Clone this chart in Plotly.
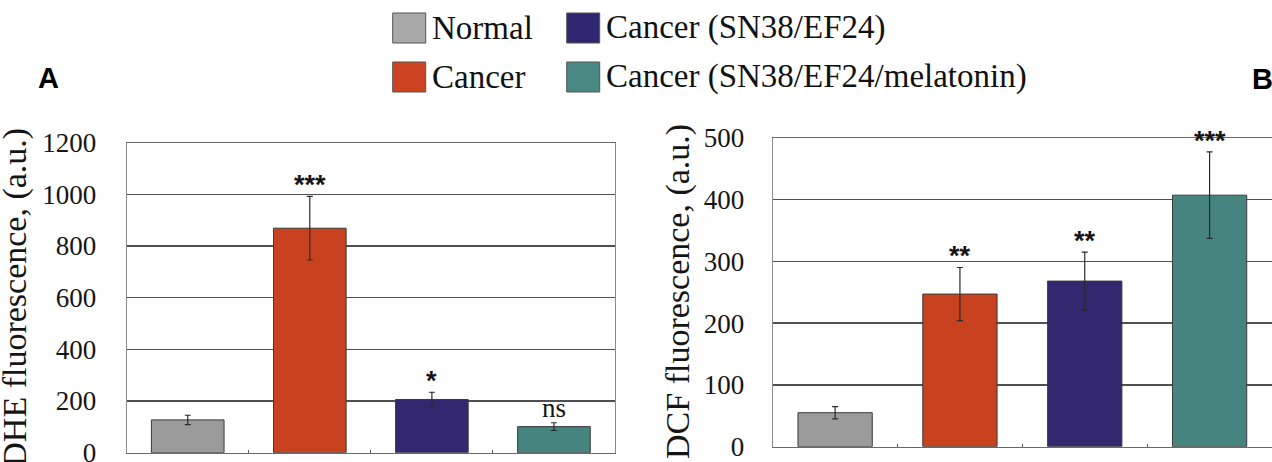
import plotly.graph_objects as go

# ---------------- data ----------------
categories = ["Normal", "Cancer", "Cancer (SN38/EF24)", "Cancer (SN38/EF24/melatonin)"]
colors = ["#9B9B9B", "#C8421F", "#33276F", "#468480"]
legend_colors = ["#A9A9A9", "#CC4322", "#2F2672", "#4A8884"]

dhe_mean = [127, 869, 206, 101]
dhe_err = [18, 123, 28, 15]
dhe_sig = ["", "***", "*", "ns"]

dcf_mean = [55, 247, 268, 407]
dcf_err = [10, 43, 47, 70]
dcf_sig = ["", "**", "**", "***"]

dhe_ticks = [0, 200, 400, 600, 800, 1000, 1200]
dcf_ticks = [0, 100, 200, 300, 400, 500]

W, H = 1272, 462


def px(x):
    return x / W


def py(y):
    return 1 - y / H


SERIF = "Times New Roman, Liberation Serif, serif"
SANS = "Liberation Sans"

fig = go.Figure()

fig.add_trace(go.Bar(
    x=categories, y=dhe_mean,
    error_y=dict(type="data", array=dhe_err, color="#2a2a2a", thickness=1.2, width=3),
    marker=dict(color=colors, line=dict(color="#3a3a3a", width=1)),
    xaxis="x", yaxis="y", showlegend=False, hoverinfo="skip",
))
fig.add_trace(go.Bar(
    x=categories, y=dcf_mean,
    error_y=dict(type="data", array=dcf_err, color="#2a2a2a", thickness=1.2, width=3),
    marker=dict(color=colors, line=dict(color="#3a3a3a", width=1)),
    xaxis="x2", yaxis="y2", showlegend=False, hoverinfo="skip",
))

tickfont = dict(family=SERIF, size=27, color="#151515")
grid = dict(showgrid=True, gridcolor="#505050", gridwidth=1.4, zeroline=False,
            showline=True, linecolor="#8a8a8a", linewidth=1, ticks="",
            tickfont=tickfont, automargin=False, ticklabeloverflow="allow")
xcommon = dict(type="category", showgrid=False, zeroline=False, showticklabels=False,
               showline=True, linecolor="#6a6a6a", linewidth=1, automargin=False,
               ticks="inside", ticklen=3, tickcolor="#555", tickson="boundaries")

fig.update_layout(
    width=W, height=H,
    autosize=False,
    margin=dict(l=0, r=0, t=0, b=0, pad=0, autoexpand=False),
    font=dict(family=SERIF, size=27, color="#151515"),
    paper_bgcolor="white", plot_bgcolor="white",
    showlegend=False,
    bargap=0.405,
    xaxis=dict(domain=[px(126.7), px(615)], anchor="y", mirror=True, **xcommon),
    yaxis=dict(domain=[py(452.7), py(142.7)], anchor="x", range=[0, 1200],
               tickvals=dhe_ticks, ticktext=[str(v) for v in dhe_ticks],
               mirror=True, ticklabelstandoff=24, **grid),
    xaxis2=dict(domain=[px(772.7), 1.0], anchor="y2", mirror=True, **xcommon),
    yaxis2=dict(domain=[py(446.7), py(137.7)], anchor="x2", range=[0, 500],
                tickvals=dcf_ticks, ticktext=[str(v) for v in dcf_ticks],
                mirror=False, ticklabelstandoff=22, **grid),
)

annotations = []
# significance labels
for xa, ya, means, errs, sigs in [("x", "y", dhe_mean, dhe_err, dhe_sig),
                                  ("x2", "y2", dcf_mean, dcf_err, dcf_sig)]:
    for c, m, e, s in zip(categories, means, errs, sigs):
        if not s:
            continue
        if s == "ns":
            font = dict(family=SERIF, size=27, color="#151515")
            shift = -2
            txt = s
        else:
            font = dict(family=SANS, size=27, color="#151515")
            shift = -6
            txt = "<b>" + s + "</b>"
        annotations.append(dict(x=c, y=m + e, xref=xa, yref=ya, text=txt, showarrow=False,
                                xanchor="center", yanchor="bottom", yshift=shift, font=font))

# axis titles
annotations.append(dict(x=px(15), y=py(297.7), xref="paper", yref="paper",
                        text="DHE fluorescence, (a.u.)", textangle=-90, showarrow=False,
                        xanchor="center", yanchor="middle",
                        font=dict(family=SERIF, size=34, color="#151515")))
annotations.append(dict(x=px(678), y=py(292), xref="paper", yref="paper",
                        text="DCF fluorescence, (a.u.)", textangle=-90, showarrow=False,
                        xanchor="center", yanchor="middle",
                        font=dict(family=SERIF, size=34, color="#151515")))

# panel letters
annotations.append(dict(x=px(48), y=py(78), xref="paper", yref="paper", text="<b>A</b>",
                        showarrow=False, xanchor="center", yanchor="middle",
                        font=dict(family=SANS, size=29, color="black")))
annotations.append(dict(x=px(1262), y=py(79), xref="paper", yref="paper", text="<b>B</b>",
                        showarrow=False, xanchor="center", yanchor="middle",
                        font=dict(family=SANS, size=29, color="black")))

# manual legend (2 columns, column-major)
shapes = []
col_x = [392.7, 566.7]
row_y = [28, 77]
for i, (name, col) in enumerate(zip(categories, legend_colors)):
    cx = col_x[i // 2]
    cy = row_y[i % 2]
    shapes.append(dict(type="rect", xref="paper", yref="paper",
                       x0=px(cx), x1=px(cx + 33), y0=py(cy + 15), y1=py(cy - 15),
                       fillcolor=col, line=dict(color="#555555", width=1)))
    annotations.append(dict(x=px(cx + 37), y=py(cy), xref="paper", yref="paper", text=name,
                            showarrow=False, xanchor="left", yanchor="middle",
                            font=dict(family=SERIF, size=33, color="#111111")))

fig.update_layout(annotations=annotations, shapes=shapes)

fig.write_html(
    "out.html",
    config={"displayModeBar": False, "staticPlot": True},
    post_script="document.body.style.margin='0';document.body.style.overflow='hidden';",
)
